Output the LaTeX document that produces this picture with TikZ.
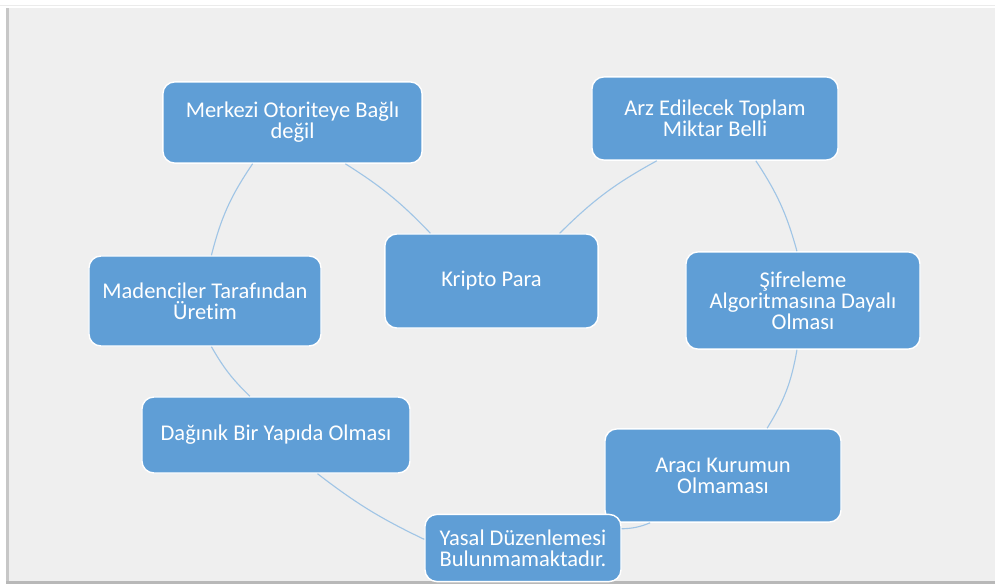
\documentclass[tikz,border=0pt]{standalone}
\usepackage{fontspec}
\setmainfont{Carlito}[Ligatures={NoCommon,NoContextual,NoRequired}, Contextuals=NoAlternate]
\usepackage{tikz}
\definecolor{boxblue}{RGB}{95,158,214}
\definecolor{arcblue}{RGB}{160,197,230}
\definecolor{panel}{RGB}{239,239,239}
\tikzset{item/.style={rectangle, rounded corners=0.3cm, fill=boxblue, draw=white, line width=1pt, text=white, align=center, font=\fontsize{16}{14.8}\selectfont, inner sep=2pt},
%thin arc between two boxes
link/.style={draw=arcblue, line width=0.8pt}}

\begin{document}
\begin{tikzpicture}[x=0.025cm,y=0.025cm]
\useasboundingbox (0,0) rectangle (995,-584);
% background
\fill[white] (0,0) rectangle (995,-584);
\draw[black!8] (0,-5) -- (995,-5);
\fill[panel] (8,-8) rectangle (995,-582);
\fill[black!22] (6,-8) rectangle (9,-584);
\fill[black!28] (6,-581) rectangle (995,-584);

% boxes
\node[item, minimum width=6.48cm, minimum height=2.03cm] (merkezi) at (292.5,-122.5) {Merkezi Otoriteye Bağlı\\değil};
\node[item, minimum width=6.15cm, minimum height=2.08cm] (arz) at (715,-118.5) {Arz Edilecek Toplam\\Miktar Belli};
\node[item, minimum width=5.33cm, minimum height=2.35cm] (kripto) at (491.5,-281) {Kripto Para};
\node[item, minimum width=5.8cm, minimum height=2.25cm] (madenciler) at (205,-301) {Madenciler Tarafından\\Üretim};
\node[item, minimum width=5.85cm, minimum height=2.43cm] (sifreleme) at (803,-300.5) {Şifreleme\\Algoritmasına Dayalı\\Olması};
\node[item, minimum width=6.7cm, minimum height=1.9cm] (daginik) at (276,-435) {Dağınık Bir Yapıda Olması};
\node[item, minimum width=5.9cm, minimum height=2.33cm] (araci) at (723,-475.5) {Aracı Kurumun\\Olmaması};
\node[item, minimum width=4.9cm, minimum height=1.68cm] (yasal) at (523,-548) {Yasal Düzenlemesi\\Bulunmamaktadır.};

% arcs
\draw[link] (merkezi.226) to[bend right=10] (madenciler.82);
\draw[link] (madenciler.278) to[bend right=8] (daginik.124);
\draw[link] (daginik.317) to[bend right=6] (yasal.175);
\draw[link] (yasal.11) to[bend right=10] (araci.213);
\draw[link] (araci.47) to[bend right=11] (sifreleme.263);
\draw[link] (sifreleme.97) to[bend right=9] (arz.314);
\draw[link] (arz.216) to[bend right=8] (kripto.35);
\draw[link] (kripto.142) to[bend right=7] (merkezi.322);

\end{tikzpicture}
\end{document}
